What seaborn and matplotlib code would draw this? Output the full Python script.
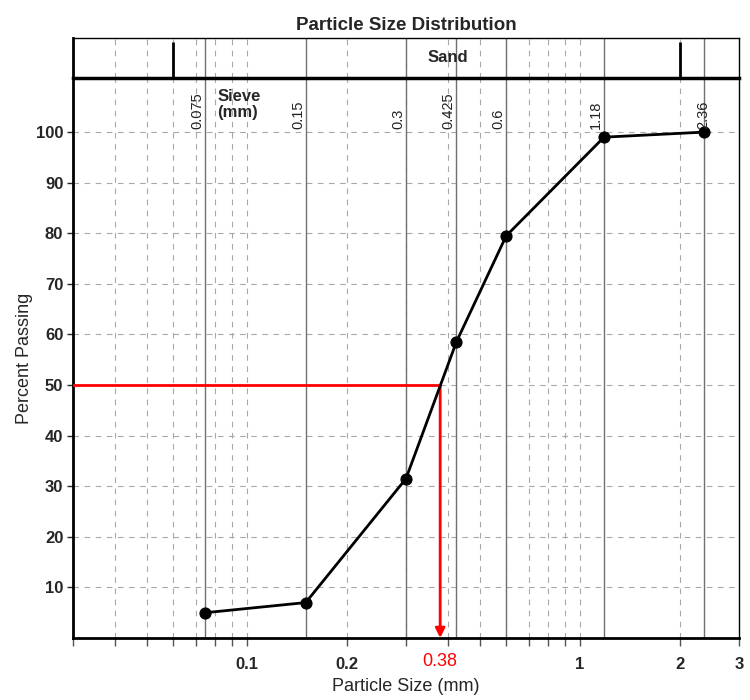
import numpy as np
import matplotlib
matplotlib.use("Agg")
import matplotlib.pyplot as plt
import matplotlib.transforms as mtransforms
import seaborn as sns

# ======================================
# DATA
# ======================================
sieve_sizes = [0.075, 0.15, 0.3, 0.425, 0.6, 1.18, 2.36]
sieve_labels = ["0.075", "0.15", "0.3", "0.425", "0.6", "1.18", "2.36"]
percent_passing = [5, 7, 31.5, 58.5, 79.5, 99, 100]

d50 = 0.38
d50_pct = 50

sand_limits = [0.06, 2.0]
x_ticks = [0.1, 0.2, 1, 2, 3]
x_tick_labels = ["0.1", "0.2", "1", "2", "3"]
y_ticks = [10, 20, 30, 40, 50, 60, 70, 80, 90, 100]

# ======================================
# STYLE
# ======================================
sns.set_style("white")
plt.rcParams["font.family"] = ["Liberation Sans", "DejaVu Sans"]

fig = plt.figure(figsize=(7.5, 7), dpi=100)
left, width = 0.0973, 0.888
ax = fig.add_axes([left, 0.0886, width, 0.80])
ax_band = fig.add_axes([left, 0.8886, width, 0.0571], sharex=ax)

xmin, xmax = 0.03, 3.0
ymin, ymax = 0, 110.7

# grid positions on log scale
grid_x = [m * 10.0 ** e for e in (-2, -1, 0) for m in range(1, 10)]
grid_x = [g for g in grid_x if xmin < g < xmax]

for a in (ax, ax_band):
    a.set_xscale("log")
    for g in grid_x:
        a.axvline(g, color="#a8a8a8", lw=0.8, ls=(0, (5, 5)), zorder=0)
    for s in sieve_sizes:
        a.axvline(s, color="#707070", lw=1.0, zorder=1)

for yv in y_ticks:
    ax.axhline(yv, color="#a8a8a8", lw=0.8, ls=(0, (5, 5)), zorder=0)

# ======================================
# MAIN CURVE
# ======================================
sns.lineplot(x=sieve_sizes, y=percent_passing, ax=ax, color="black", lw=2,
             marker="o", markersize=8, markeredgecolor="black", zorder=5)

# D50 construction
ax.plot([xmin, d50], [d50_pct, d50_pct], color="red", lw=2, zorder=4)
ax.annotate("", xy=(d50, 0), xytext=(d50, d50_pct),
            arrowprops=dict(arrowstyle="-|>", color="red", lw=2,
                            mutation_scale=14, shrinkA=0, shrinkB=0),
            zorder=4)

ax.set_xlim(xmin, xmax)
ax.set_ylim(ymin, ymax)

ax.set_xticks(x_ticks)
ax.set_xticklabels(x_tick_labels, fontsize=12, fontweight="bold")
ax.set_xticks(grid_x + [0.03], minor=True)
ax.xaxis.set_minor_formatter(matplotlib.ticker.NullFormatter())
ax.tick_params(axis="x", which="both", direction="out", length=6, width=1,
               color="#555555", bottom=True, pad=8)
ax.set_yticks(y_ticks)
ax.set_yticklabels([str(v) for v in y_ticks], fontsize=12, fontweight="bold")
ax.tick_params(axis="y", direction="out", length=4, width=1, left=True, pad=3)

trans = mtransforms.blended_transform_factory(ax.transData, ax.transAxes)
ax.text(d50, -0.026, "0.38", color="red", fontsize=13, ha="center",
        va="top", transform=trans)

# sieve labels
for s, lab in zip(sieve_sizes, sieve_labels):
    ha = "center" if lab == "2.36" else "right"
    ax.text(s * 0.995, 100.6, lab, rotation=90, fontsize=10.5, ha=ha,
            va="bottom", color="#222222", zorder=6)
ax.text(0.0815, 108.5, "Sieve\n(mm)", fontsize=12, fontweight="bold",
        ha="left", va="top", linespacing=1.1)

ax.set_xlabel("Particle Size (mm)", fontsize=13, labelpad=4)
ax.set_ylabel("Percent Passing", fontsize=13, labelpad=2)

for side in ("left", "bottom"):
    ax.spines[side].set_linewidth(2)
    ax.spines[side].set_color("black")
ax.spines["top"].set_visible(False)
ax.spines["right"].set_color("black")
ax.spines["right"].set_linewidth(1)

# ======================================
# SOIL CLASS BAND
# ======================================
ax_band.set_ylim(0, 1)
ax_band.vlines(sand_limits, 0, 0.9, color="black", lw=2, zorder=3)
ax_band.text(0.4, 0.5, "Sand", fontsize=12, fontweight="bold",
             ha="center", va="center", zorder=4)
ax_band.tick_params(axis="both", which="both", bottom=False, left=False,
                    labelbottom=False, labelleft=False)
for side in ax_band.spines:
    ax_band.spines[side].set_color("black")
    ax_band.spines[side].set_linewidth(1)
ax_band.spines["bottom"].set_linewidth(2.5)
ax_band.spines["left"].set_linewidth(2)
ax_band.set_title("Particle Size Distribution", fontsize=13.5, fontweight="bold",
                  pad=6)

plt.savefig("out.png", dpi=100)
plt.close()
